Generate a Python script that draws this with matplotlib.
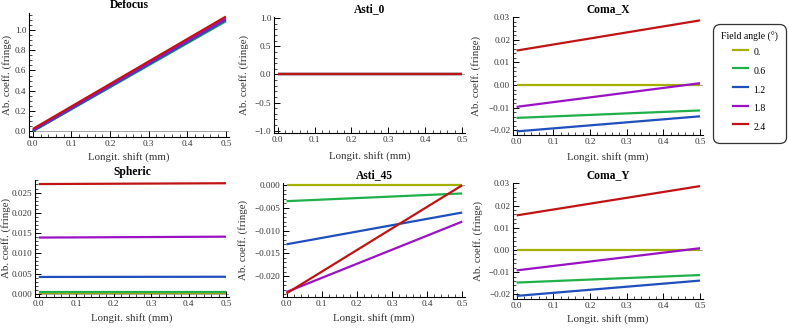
import matplotlib
matplotlib.use("Agg")
import matplotlib.pyplot as plt
from matplotlib.ticker import MultipleLocator
from matplotlib.lines import Line2D

plt.rcParams['font.family'] = ['Liberation Serif', 'DejaVu Serif']

# data: coefficient at shift 0.0 and 0.5 mm for each field angle
shift = [0.0, 0.5]
field_angles = ['0.', '0.6', '1.2', '1.8', '2.4']
colors = ['#a3b000', '#1fb04a', '#1f4fbd', '#9a12c4', '#c01414']

defocus = [[0.0, 1.095], [-0.003, 1.088], [0.0, 1.10], [0.008, 1.115], [0.02, 1.135]]
asti_0 = [[0.0, 0.0], [0.0, 0.0], [0.0, 0.0], [0.0, 0.0], [0.0, 0.0]]
coma_x = [[0.0, 0.0], [-0.0146, -0.0113], [-0.0206, -0.0139], [-0.0097, 0.0008], [0.0153, 0.0287]]
spheric = [[0.0001, 0.0001], [0.0005, 0.0005], [0.00415, 0.0042], [0.01388, 0.0141], [0.0271, 0.0273]]
asti_45 = [[0.0, 0.0], [-0.0035, -0.0018], [-0.0130, -0.0060], [-0.0235, -0.0080], [-0.0238, 0.0]]
coma_y = [[0.0, 0.0], [-0.0147, -0.0113], [-0.0207, -0.0138], [-0.0092, 0.0008], [0.0156, 0.0288]]

# name, data, pixel box [left, top, right, bottom], ylim, major, minor, fmt,
# ylabel x, xlabel y, title y (pixels)
panels = [
  ('Defocus', defocus, [29, 13, 229, 137], (-0.06, 1.17), 0.2, 0.05, '%.1f', 7, 157, 8.5),
  ('Asti_0', asti_0, [274, 17, 465, 133], (-1.04, 1.02), 0.5, 0.1, '%.1f', 244, 156, 9.5),
  ('Coma_X', coma_x, [513, 17, 703, 135], (-0.0222, 0.0302), 0.01, 0.002, '%.2f', 476, 157, 9.5),
  ('Spheric', spheric, [35, 180, 229, 297], (-0.0008, 0.0281), 0.005, 0.001, '%.3f', 6, 318, 174.5),
  ('Asti_45', asti_45, [283, 183, 465, 297], (-0.0246, 0.0005), 0.005, 0.001, '%.3f', 243, 318, 176.5),
  ('Coma_Y', coma_y, [513, 183, 703, 299], (-0.0221, 0.0302), 0.01, 0.002, '%.2f', 478, 319, 174.5),
]

W, H = 789, 328
fig = plt.figure(figsize=(W/100, H/100), dpi=100)

for name, data, box, ylim, major, minor, fmt, ylx, xly, tty in panels:
  l, t, r, b = box
  ax = fig.add_axes([l/W, 1 - b/H, (r - l)/W, (b - t)/H])
  if ylim[0] < 0 < ylim[1]:
    ax.axhline(0, color='#999999', lw=0.6, zorder=1)
  for vals, c in zip(data, colors):
    ax.plot(shift, vals, color=c, lw=1.6, solid_capstyle='butt', zorder=2)
  ax.set_xlim(-0.01, 0.508)
  ax.set_ylim(*ylim)
  for s in ['top', 'right']:
    ax.spines[s].set_visible(False)
  for s in ['left', 'bottom']:
    ax.spines[s].set_linewidth(0.8)
  ax.xaxis.set_major_locator(MultipleLocator(0.1))
  ax.xaxis.set_minor_locator(MultipleLocator(0.02))
  ax.yaxis.set_major_locator(MultipleLocator(major))
  ax.yaxis.set_minor_locator(MultipleLocator(minor))
  ax.xaxis.set_major_formatter(plt.FormatStrFormatter('%.1f'))
  ax.yaxis.set_major_formatter(plt.FuncFormatter(lambda v, p, f=fmt: (f % v).replace('-', '\u2212')))
  ax.tick_params(which='major', direction='in', length=4, width=0.7, labelsize=6.6, pad=2, labelcolor='#333333')
  ax.tick_params(which='minor', direction='in', length=2, width=0.5)
  ttl = ax.set_title(name, fontsize=8.3, fontweight='bold')
  ttl.set_va('center')
  ttl.set_position((0.5, (b - tty)/(b - t)))
  ax.set_xlabel('Longit. shift (mm)', fontsize=7.8, color='#333333', va='center')
  ax.set_ylabel('Ab. coeff. (fringe)', fontsize=7.8, color='#333333', va='center')
  ax.xaxis.set_label_coords(0.5, (b - xly)/(b - t))
  ax.yaxis.set_label_coords((ylx - l)/(r - l), 0.5)

handles = [Line2D([], [], color=c, lw=1.6) for c in colors]
leg = fig.legend(handles, field_angles, title='Field angle (\u00b0)', loc='upper left',
                 bbox_to_anchor=(717.6/W, 1 - 28.6/H), borderaxespad=0,
                 fontsize=7, title_fontsize=7, frameon=True, fancybox=True,
                 edgecolor='black', handlelength=1.54, handleheight=2.27,
                 labelspacing=0.2, borderpad=0.36, handletextpad=0.5)
leg.get_frame().set_linewidth(0.9)
leg.get_frame().set_boxstyle('round', pad=0.45, rounding_size=0.7)

fig.savefig('out.png', dpi=100)
